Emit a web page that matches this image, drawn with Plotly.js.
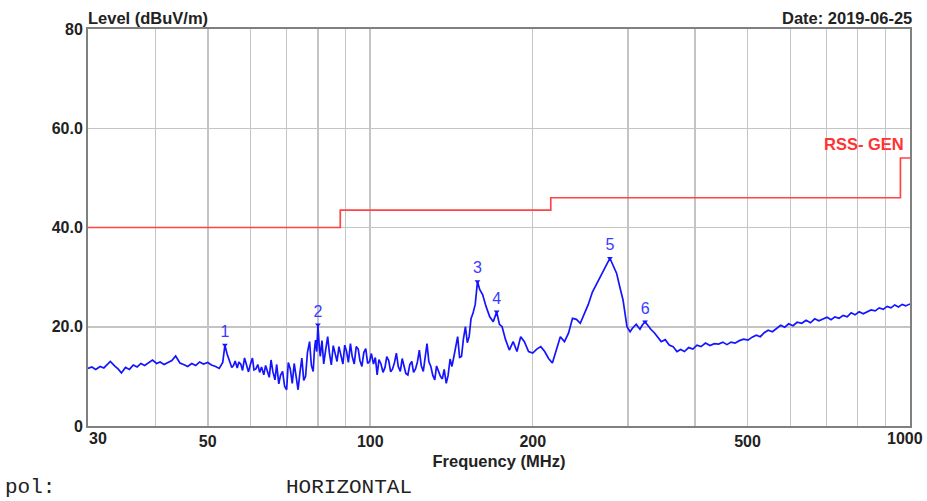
<!DOCTYPE html>
<html>
<head>
<meta charset="utf-8">
<script src="https://cdn.plot.ly/plotly-3.0.1.min.js"></script>
<style>html,body{margin:0;padding:0;background:#fff}#chart{width:927px;height:501px}</style>
</head>
<body>
<div id="chart"></div>
<script>
// Measured scan (MHz, dBuV/m)
const freqMHz = [
  30.0, 30.5, 31.0, 31.6, 32.1, 32.6, 33.0, 33.6, 34.1, 34.6,
  35.2, 35.8, 36.4, 37.0, 37.6, 38.2, 38.9, 39.5, 40.2, 40.8,
  41.5, 42.2, 42.9, 43.6, 44.4, 45.1, 45.9, 46.7, 47.5, 48.3,
  49.1, 50.0, 50.8, 51.7, 52.5, 53.3, 53.8, 54.3, 55.0, 55.4,
  55.8, 56.2, 56.7, 57.1, 57.6, 58.0, 58.5, 59.0, 59.5, 60.0,
  60.5, 60.9, 61.4, 61.9, 62.4, 62.9, 63.5, 64.0, 64.5, 65.0,
  65.5, 66.0, 66.6, 67.1, 67.7, 68.2, 68.8, 69.4, 70.0, 70.5,
  71.1, 71.7, 72.3, 72.9, 73.5, 74.1, 74.7, 75.3, 75.9, 76.5,
  77.2, 77.8, 78.4, 78.8, 79.2, 79.6, 80.0, 80.4, 80.8, 81.4,
  82.0, 82.7, 83.4, 84.0, 84.7, 85.4, 86.1, 86.8, 87.5, 88.2,
  89.0, 89.7, 90.4, 91.1, 91.9, 92.6, 93.4, 94.2, 95.0, 95.7,
  96.5, 97.3, 98.1, 98.9, 99.7, 100.5, 101.4, 102.2, 103.0, 103.8,
  104.7, 105.6, 106.5, 107.3, 108.2, 109.1, 110.0, 110.9, 111.8, 112.7,
  113.7, 114.6, 115.5, 116.4, 117.4, 118.4, 119.4, 120.3, 121.3, 122.3,
  123.3, 124.3, 125.4, 126.4, 127.4, 128.4, 129.5, 130.6, 131.7, 132.7,
  133.8, 134.9, 136.0, 137.1, 138.3, 139.4, 140.6, 141.7, 142.9, 144.0,
  145.2, 146.4, 147.6, 148.8, 150.1, 151.3, 152.5, 153.7, 155.0, 156.5,
  158.0, 159.5, 161.5, 164.0, 166.5, 169.0, 171.5, 173.5, 175.5, 178.0,
  181.0, 184.0, 187.0, 190.0, 193.0, 196.5, 200.0, 203.5, 207.0, 210.5,
  214.0, 217.5, 221.0, 225.0, 229.0, 233.0, 237.0, 241.0, 245.0, 249.0,
  253.5, 258.0, 262.5, 267.0, 271.5, 275.0, 278.0, 282.0, 286.0, 290.0,
  294.0, 299.0, 303.0, 306.0, 311.0, 316.0, 319.0, 323.0, 327.0, 331.0,
  336.0, 340.0, 346.0, 352.0, 358.0, 364.0, 370.0, 376.0, 382.0, 389.0,
  396.0, 403.0, 410.0, 418.0, 426.0, 434.0, 442.0, 450.0, 458.0, 466.0,
  474.0, 483.0, 492.0, 501.0, 510.0, 519.0, 528.0, 537.0, 546.0, 556.0,
  566.0, 576.0, 586.0, 596.0, 607.0, 618.0, 630.0, 642.0, 654.0, 666.0,
  678.0, 690.0, 702.0, 714.0, 726.0, 739.0, 752.0, 765.0, 778.0, 791.0,
  805.0, 819.0, 833.0, 847.0, 862.0, 877.0, 892.0, 907.0, 922.0, 937.0,
  952.0, 967.0, 982.0, 1000.0
];
const levelDb = [
  11.6, 11.9, 11.4, 12.0, 11.7, 12.4, 13.0, 12.1, 11.5, 10.7,
  11.8, 11.4, 12.3, 11.9, 12.6, 12.2, 12.9, 13.3, 12.6, 12.9,
  12.4, 12.8, 13.2, 14.1, 12.7, 12.4, 12.0, 12.6, 12.2, 12.9,
  12.5, 12.8, 12.3, 12.0, 11.6, 12.8, 16.3, 14.5, 13.0, 11.8,
  12.2, 13.1, 11.7, 12.9, 12.4, 11.2, 13.7, 12.0, 10.9, 12.5,
  13.7, 11.3, 11.5, 12.4, 10.8, 11.9, 10.3, 12.2, 11.2, 9.8,
  13.3, 11.0, 9.3, 12.4, 8.5, 10.2, 11.0, 8.0, 7.3, 12.8,
  11.5, 8.6, 12.6, 9.5, 7.3, 10.8, 13.7, 9.2, 10.0, 14.8,
  17.0, 12.2, 11.0, 15.2, 17.3, 15.0, 20.4, 16.5, 14.0, 17.2,
  12.5, 15.4, 18.0, 14.8, 12.3, 16.2, 14.5, 13.0, 16.0, 14.4,
  12.5, 16.3, 15.0, 12.8, 16.6, 14.0, 12.5, 16.0, 15.5, 13.2,
  12.0, 14.8, 15.6, 12.6, 13.0, 14.6, 12.5, 13.8, 10.3, 13.4,
  12.5, 10.8, 11.8, 14.0, 13.2, 10.9, 11.5, 12.8, 14.7, 12.0,
  11.0, 13.6, 12.3, 10.6, 10.3, 12.4, 13.0, 10.8, 11.5, 12.9,
  15.3, 12.2, 11.0, 14.2, 16.6, 13.0, 12.0, 10.2, 9.3, 12.1,
  11.0, 10.0, 9.5, 11.4, 8.6, 10.2, 13.5, 12.0, 14.0, 16.2,
  18.0, 13.8, 14.0, 17.5, 20.0, 16.8, 18.0, 21.6, 22.7, 24.5,
  29.1, 27.5, 26.5, 24.0, 22.0, 21.0, 23.0, 20.5, 20.0, 17.5,
  15.3, 17.0, 15.0, 18.0, 17.0, 15.0, 14.7, 15.5, 16.0, 15.0,
  13.6, 12.7, 15.0, 18.0, 17.0, 18.7, 21.7, 21.5, 20.7, 22.5,
  24.5, 27.0, 28.5, 30.0, 31.5, 32.8, 33.8, 32.3, 30.8, 28.0,
  25.4, 20.0, 19.0, 19.7, 20.5, 19.5, 20.3, 21.0, 20.2, 19.5,
  18.8, 18.0, 17.0, 17.4, 16.3, 16.0, 15.0, 15.4, 15.0, 15.8,
  15.5, 16.3, 16.0, 16.7, 16.2, 16.6, 16.5, 16.9, 16.4, 16.9,
  16.7, 17.2, 17.5, 17.3, 17.9, 18.3, 18.0, 18.8, 19.3, 19.0,
  19.6, 20.3, 19.9, 20.6, 20.2, 20.9, 20.7, 21.3, 20.8, 21.6,
  21.2, 21.5, 21.9, 21.4, 22.0, 21.7, 22.3, 22.0, 22.8, 22.4,
  23.0, 22.6, 23.0, 23.4, 23.2, 23.8, 23.5, 24.1, 23.8, 24.4,
  24.0, 24.5, 24.2, 24.6
];

// RSS-GEN limit line
const limitFreq = [30, 88, 216, 960, 1000];
const limitLevel = [40, 43.5, 46, 54, 54];

// Marked peaks
const peakFreq = [53.8, 80.0, 158.0, 171.5, 278.0, 323.0];
const peakLevel = [16.3, 20.4, 29.1, 23.0, 33.8, 21.0];
const peakLabel = ['1', '2', '3', '4', '5', '6'];

// Axis ticks (end labels 30 and 1000 are drawn as edge-aligned annotations)
const xGridVals = [30, 40, 50, 60, 70, 80, 90, 100, 200, 300, 400, 500, 600, 700, 800, 900, 1000];
const xGridText = ['', '', '50', '', '', '', '', '100', '200', '', '', '500', '', '', '', '', ''];
const xEndLabels = ['30', '1000'];
const yTickVals = [0, 20, 40, 60, 80];
const yTickText = ['0', '20.0', '40.0', '60.0', '80'];

const FONT = 'Liberation Sans, Arial, sans-serif';
const tickFont = {family: FONT, size: 16, color: '#222222', weight: 'bold'};
const titleFont = {family: FONT, size: 16.5, color: '#222222', weight: 'bold'};
const monoFont = {family: 'Liberation Mono, Courier New, monospace', size: 21, color: '#222222'};

const traces = [
  {
    x: limitFreq, y: limitLevel, type: 'scatter', mode: 'lines',
    line: {color: '#ff4444', width: 1.7, shape: 'hv'}, hoverinfo: 'skip'
  },
  {
    x: freqMHz, y: levelDb, type: 'scatter', mode: 'lines',
    line: {color: '#1414ff', width: 1.7}
  },
  {
    x: peakFreq, y: peakLevel, type: 'scatter', mode: 'markers+text',
    text: peakLabel, textposition: 'top center',
    textfont: {family: FONT, size: 16, color: '#3a3aff'},
    marker: {symbol: 'triangle-down', size: 5, color: '#1414ff'}
  }
];

const layout = {
  width: 927, height: 501,
  margin: {l: 88, r: 17, t: 29, b: 75},
  paper_bgcolor: '#ffffff', plot_bgcolor: '#ffffff',
  showlegend: false,
  xaxis: {
    type: 'log', range: [Math.log10(30), Math.log10(1000)],
    tickmode: 'array', tickvals: xGridVals, ticktext: xGridText,
    showgrid: true, gridcolor: '#c4c4c4', gridwidth: 1.5,
    showline: true, linecolor: '#808080', linewidth: 2, mirror: true,
    ticks: '', tickfont: tickFont, zeroline: false, ticklabeloverflow: 'allow',
    title: {text: 'Frequency (MHz)', font: titleFont, standoff: 6}
  },
  yaxis: {
    range: [0, 80], tickmode: 'array', tickvals: yTickVals, ticktext: yTickText,
    showgrid: true, gridcolor: '#c4c4c4', gridwidth: 1.5,
    showline: true, linecolor: '#808080', linewidth: 2, mirror: true,
    ticks: '', tickfont: tickFont, zeroline: false
  },
  annotations: [
    {text: xEndLabels[0], xref: 'paper', yref: 'paper', x: 0, y: 0,
     xanchor: 'left', yanchor: 'top', xshift: -1, yshift: -2, showarrow: false, font: tickFont},
    {text: xEndLabels[1], xref: 'paper', yref: 'paper', x: 1, y: 0,
     xanchor: 'right', yanchor: 'top', xshift: 15, yshift: -2, showarrow: false, font: tickFont},
    {text: 'Level (dBuV/m)', xref: 'paper', yref: 'paper', x: 0, y: 1,
     xanchor: 'left', yanchor: 'bottom', yshift: 0, xshift: -2, showarrow: false, font: titleFont},
    {text: 'Date: 2019-06-25', xref: 'paper', yref: 'paper', x: 1, y: 1,
     xanchor: 'right', yanchor: 'bottom', yshift: 0, xshift: 4, showarrow: false, font: titleFont},
    {text: 'RSS- GEN', xref: 'x', yref: 'y', x: Math.log10(1000), y: 54,
     xanchor: 'right', yanchor: 'bottom', xshift: -4, yshift: 3, showarrow: false,
     font: {family: FONT, size: 16.5, color: '#ff3333', weight: 'bold'}},
    {text: 'pol:', xref: 'paper', yref: 'paper', x: -0.103, y: -0.156,
     xanchor: 'left', yanchor: 'middle', showarrow: false, font: monoFont},
    {text: 'HORIZONTAL', xref: 'paper', yref: 'paper', x: 0.2385, y: -0.156,
     xanchor: 'left', yanchor: 'middle', showarrow: false, font: monoFont}
  ]
};

Plotly.newPlot('chart', traces, layout, {staticPlot: true, displayModeBar: false});
</script>
</body>
</html>
